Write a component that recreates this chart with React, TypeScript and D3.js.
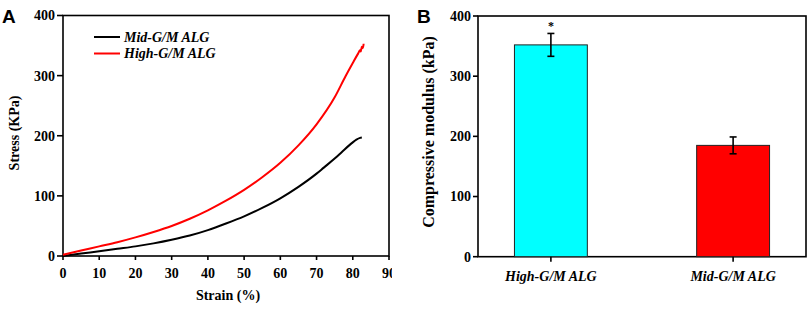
import React from "react";
import * as d3 from "d3";

const midStrain = [0, 5, 10, 15, 20, 25, 30, 35, 40, 45, 50, 55, 60, 65, 70, 72, 75, 77, 79, 80, 81, 82, 82.5];
const midStress = [0, 4, 8, 12, 16, 21, 27, 34, 43, 54, 66, 80, 96, 115, 137, 147, 162, 173, 184, 189, 193.5, 196.5, 197];
const highStrain = [0, 5, 10, 15, 20, 25, 30, 35, 40, 45, 50, 55, 60, 65, 70, 75, 78, 80, 81.5, 82, 82.2, 82.5, 82.8, 83];
const highStress = [2, 9, 16, 23, 31, 40, 50, 62, 76, 92, 110, 131, 155, 184, 219, 264, 299, 321, 337, 342, 340, 348, 346, 353];
const xTicksA = [0, 10, 20, 30, 40, 50, 60, 70, 80, 90];
const yTicks = [0, 100, 200, 300, 400];
const barCategories = ["High-G/M ALG", "Mid-G/M ALG"];
const barValues = [352, 185];
const barErrors = [19, 14];
const barColors = ["#00FFFF", "#FF0000"];
const legendNames = ["Mid-G/M ALG", "High-G/M ALG"];

const serif: React.CSSProperties = { fontFamily: "'Liberation Serif', 'Times New Roman', serif", fontWeight: 700 };
const serifIt: React.CSSProperties = { ...serif, fontStyle: "italic" };
const sans: React.CSSProperties = { fontFamily: "'Liberation Sans', Arial, sans-serif", fontWeight: 700 };

export default function App() {
  // Panel A
  const ax = d3.scaleLinear().domain([0, 90]).range([63, 389]);
  const ay = d3.scaleLinear().domain([0, 400]).range([256, 15.5]);
  const line = d3.line<[number, number]>().x(d => ax(d[0])).y(d => ay(d[1])).curve(d3.curveMonotoneX);
  const midPts = midStrain.map((s, i) => [s, midStress[i]] as [number, number]);
  const highPts = highStrain.map((s, i) => [s, highStress[i]] as [number, number]);

  // Panel B
  const bx = d3.scaleBand().domain(barCategories).range([478, 806]).paddingInner(0.6).paddingOuter(0.2);
  const by = d3.scaleLinear().domain([0, 400]).range([256.7, 16]);
  const bcenter = (c: string) => (bx(c) as number) + bx.bandwidth() / 2;

  return (
    <svg width={809} height={309} style={{ position: "absolute", left: 0, top: 0, background: "#fff" }}>
      <defs>
        <clipPath id="clipA">
          <rect x={0} y={0} width={392} height={309} />
        </clipPath>
      </defs>
      {/* Panel A */}
      <g clipPath="url(#clipA)">
        <text x={2} y={23} style={sans} fontSize={19}>A</text>
        <rect x={ax(0)} y={ay(400)} width={ax(90) - ax(0)} height={ay(0) - ay(400)} fill="none" stroke="#000" strokeWidth={1.6} />
        {yTicks.map(t => (
          <g key={"ay" + t}>
            <line x1={ax(0) - 6} x2={ax(0)} y1={ay(t)} y2={ay(t)} stroke="#000" strokeWidth={1.6} />
            <text x={ax(0) - 8} y={ay(t)} dy="0.35em" textAnchor="end" style={serif} fontSize={14}>{t}</text>
          </g>
        ))}
        {xTicksA.map(t => (
          <g key={"ax" + t}>
            <line x1={ax(t)} x2={ax(t)} y1={ay(0)} y2={ay(0) + 4} stroke="#000" strokeWidth={1.6} />
            <text x={ax(t)} y={ay(0) + 17} dy="0.35em" textAnchor="middle" style={serif} fontSize={14}>{t}</text>
          </g>
        ))}
        <path d={line(midPts) || ""} fill="none" stroke="#000" strokeWidth={2} />
        <path d={line(highPts) || ""} fill="none" stroke="#FF0000" strokeWidth={2} />
        {legendNames.map((n, i) => (
          <g key={n}>
            <line x1={94} x2={120} y1={37 + i * 16.5} y2={37 + i * 16.5} stroke={i === 0 ? "#000" : "#FF0000"} strokeWidth={2} />
            <text x={124} y={37 + i * 16.5} dy="0.35em" style={serifIt} fontSize={14}>{n}</text>
          </g>
        ))}
        <text x={(ax(0) + ax(90)) / 2 + 2} y={300} textAnchor="middle" style={serif} fontSize={14}>Strain (%)</text>
        <text transform={`translate(14, 133) rotate(-90)`} textAnchor="middle" dy="0.35em" style={serif} fontSize={14}>Stress (KPa)</text>
      </g>

      {/* Panel B */}
      <text x={417} y={23} style={sans} fontSize={19}>B</text>
      <rect x={478} y={by(400)} width={806 - 478} height={by(0) - by(400)} fill="none" stroke="#000" strokeWidth={1.6} />
      {yTicks.map(t => (
        <g key={"by" + t}>
          <line x1={473} x2={478} y1={by(t)} y2={by(t)} stroke="#000" strokeWidth={1.6} />
          <text x={471} y={by(t)} dy="0.35em" textAnchor="end" style={serif} fontSize={14}>{t}</text>
        </g>
      ))}
      {barCategories.map((c, i) => {
        const cx = bcenter(c);
        const top = by(barValues[i] + barErrors[i]);
        const bot = by(barValues[i] - barErrors[i]);
        return (
          <g key={c}>
            <rect x={bx(c)} y={by(barValues[i])} width={bx.bandwidth()} height={by(0) - by(barValues[i])} fill={barColors[i]} stroke="#222" strokeWidth={1} />
            <line x1={cx} x2={cx} y1={top} y2={bot} stroke="#000" strokeWidth={1.6} />
            <line x1={cx - 3.5} x2={cx + 3.5} y1={top} y2={top} stroke="#000" strokeWidth={1.6} />
            <line x1={cx - 3.5} x2={cx + 3.5} y1={bot} y2={bot} stroke="#000" strokeWidth={1.6} />
            <line x1={cx} x2={cx} y1={by(0)} y2={by(0) + 5} stroke="#000" strokeWidth={1.6} />
            <text x={cx} y={276} dy="0.35em" textAnchor="middle" style={serifIt} fontSize={14}>{c}</text>
            {i === 0 && (
              <text x={cx} y={top - 3} textAnchor="middle" style={serif} fontSize={12}>*</text>
            )}
          </g>
        );
      })}
      <text transform={`translate(428, 132) rotate(-90)`} textAnchor="middle" dy="0.35em" style={serif} fontSize={16}>Compressive modulus (kPa)</text>
    </svg>
  );
}
